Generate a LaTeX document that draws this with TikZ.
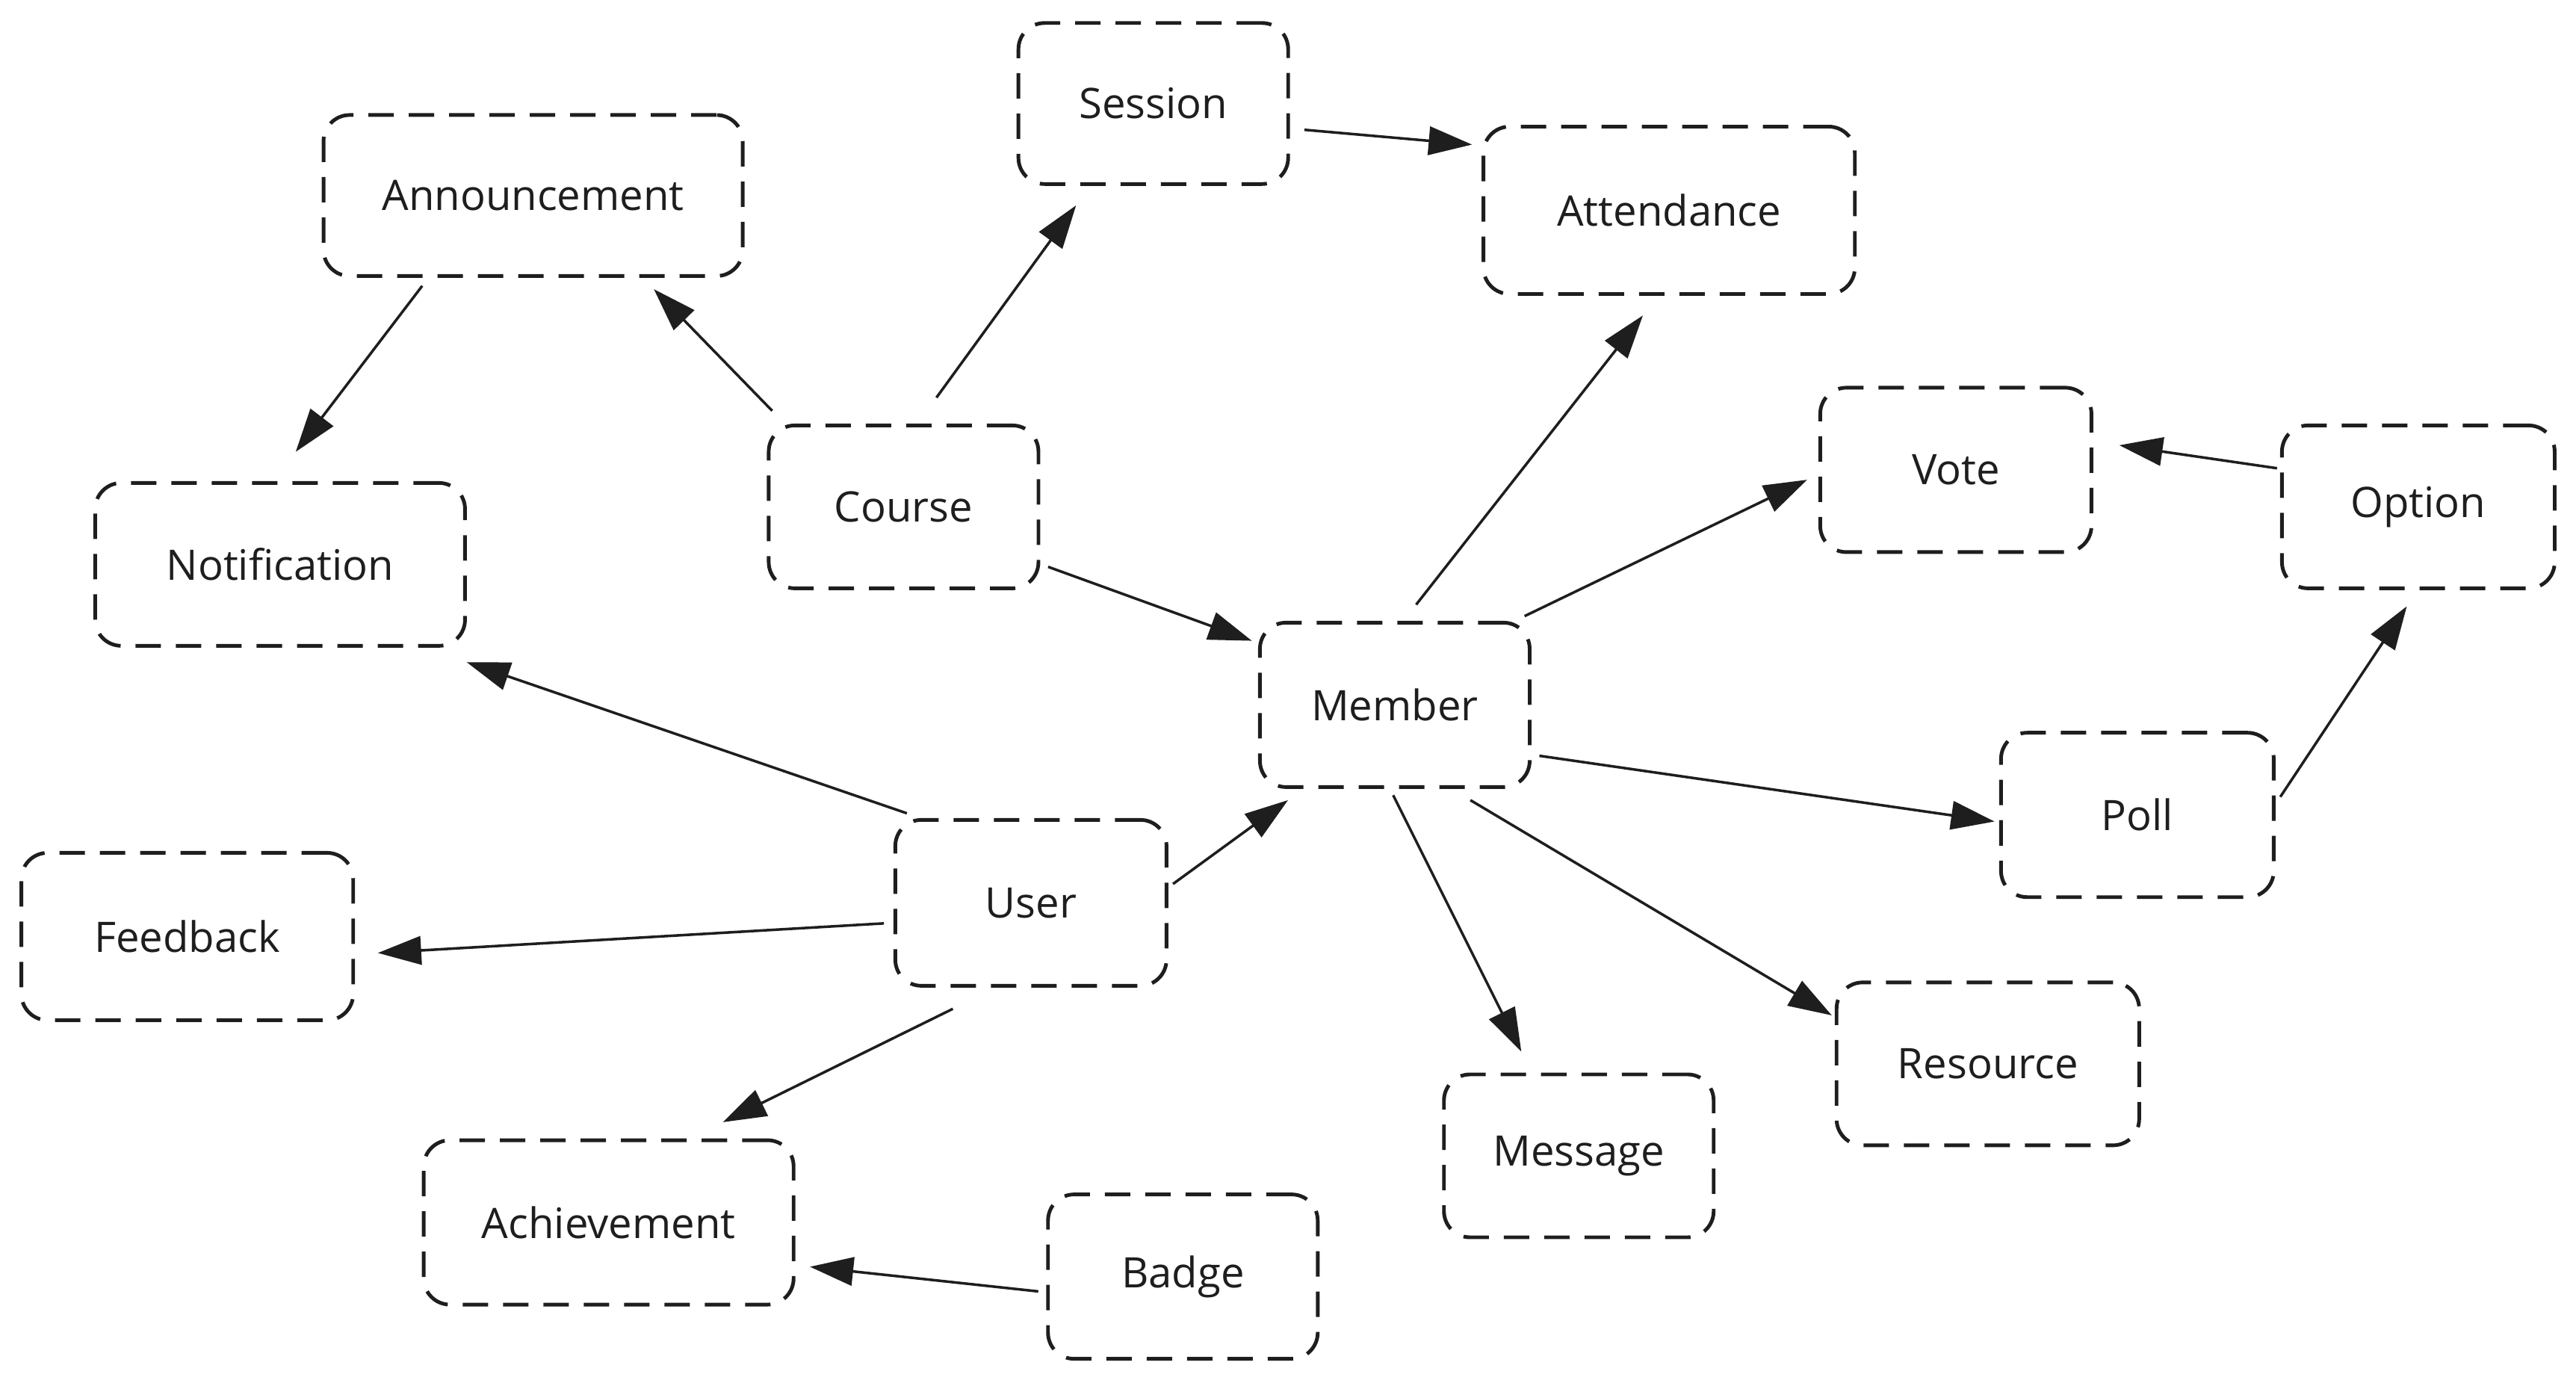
\documentclass[tikz,border=0pt]{standalone}
\usepackage{fontspec}
\setmainfont{Open Sans}
\usetikzlibrary{arrows.meta}
\definecolor{ink}{HTML}{1E1E1E}
\begin{document}
\begin{tikzpicture}[x=0.02199cm,y=-0.02199cm,
  ebox/.style={draw=ink, line width=1.4pt, dash pattern=on 3.4mm off 2mm,
    rounded corners=3.5mm, inner sep=0pt, text=ink,
    font=\fontsize{16}{19}\selectfont},
  link/.style={draw=ink, line width=1pt, -{Triangle[length=5.8mm,width=3.8mm]}}
]
\useasboundingbox (0,0) rectangle (1568,841.3);
\node[ebox, minimum width=5.61cm, minimum height=2.155cm] (ann) at (324.5,119) {Announcement};
\node[ebox, minimum width=3.61cm, minimum height=2.155cm] (ses) at (702,63) {Session};
\node[ebox, minimum width=4.97cm, minimum height=2.24cm] (att) at (1016,128) {Attendance};
\node[ebox, minimum width=4.95cm, minimum height=2.18cm] (notif) at (170.5,343.5) {Notification};
\node[ebox, minimum width=3.61cm, minimum height=2.18cm] (course) at (550,308.5) {Course};
\node[ebox, minimum width=3.63cm, minimum height=2.2cm] (vote) at (1190.5,286) {Vote};
\node[ebox, minimum width=3.65cm, minimum height=2.18cm] (opt) at (1472,308.5) {Option};
\node[ebox, minimum width=3.61cm, minimum height=2.2cm] (mem) at (849,429) {Member};
\node[ebox, minimum width=3.65cm, minimum height=2.2cm] (poll) at (1301,496) {Poll};
\node[ebox, minimum width=4.44cm, minimum height=2.24cm] (fb) at (114,570) {Feedback};
\node[ebox, minimum width=3.63cm, minimum height=2.22cm] (user) at (627.5,549.5) {User};
\node[ebox, minimum width=4.05cm, minimum height=2.18cm] (res) at (1210,647.5) {Resource};
\node[ebox, minimum width=3.61cm, minimum height=2.18cm] (msg) at (961,703.5) {Message};
\node[ebox, minimum width=4.95cm, minimum height=2.2cm] (ach) at (370.5,744) {Achievement};
\node[ebox, minimum width=3.61cm, minimum height=2.2cm] (badge) at (720,777) {Badge};

\draw[link] ([shift={(-67.5,55)}]ann.center) -- ([shift={(9.5,-68.5)}]notif.center);
\draw[link] ([shift={(-80,-58.5)}]course.center) -- ([shift={(73.5,57)}]ann.center);
\draw[link] ([shift={(20,-66.5)}]course.center) -- ([shift={(-47,62)}]ses.center);
\draw[link] ([shift={(92,16)}]ses.center) -- ([shift={(-120,-40)}]att.center);
\draw[link] ([shift={(88,36.5)}]course.center) -- ([shift={(-87,-39)}]mem.center);
\draw[link] ([shift={(13,-61)}]mem.center) -- ([shift={(-16,64)}]att.center);
\draw[link] ([shift={(79,-54)}]mem.center) -- ([shift={(-90.5,6)}]vote.center);
\draw[link] ([shift={(-86,-23.5)}]opt.center) -- ([shift={(99.5,-15)}]vote.center);
\draw[link] ([shift={(87,-11)}]poll.center) -- ([shift={(-7,60.5)}]opt.center);
\draw[link] ([shift={(88,31)}]mem.center) -- ([shift={(-87,4)}]poll.center);
\draw[link] ([shift={(46,58)}]mem.center) -- ([shift={(-95,-29.5)}]res.center);
\draw[link] ([shift={(-1,55)}]mem.center) -- ([shift={(-35,-63.5)}]msg.center);
\draw[link] ([shift={(86.5,-11.5)}]user.center) -- ([shift={(-65,58)}]mem.center);
\draw[link] ([shift={(-75.5,-54.5)}]user.center) -- ([shift={(113.5,59.5)}]notif.center);
\draw[link] ([shift={(-89.5,12.5)}]user.center) -- ([shift={(116,10)}]fb.center);
\draw[link] ([shift={(-47.5,64.5)}]user.center) -- ([shift={(69.5,-61)}]ach.center);
\draw[link] ([shift={(-88,9)}]badge.center) -- ([shift={(122.5,27)}]ach.center);
\end{tikzpicture}
\end{document}
